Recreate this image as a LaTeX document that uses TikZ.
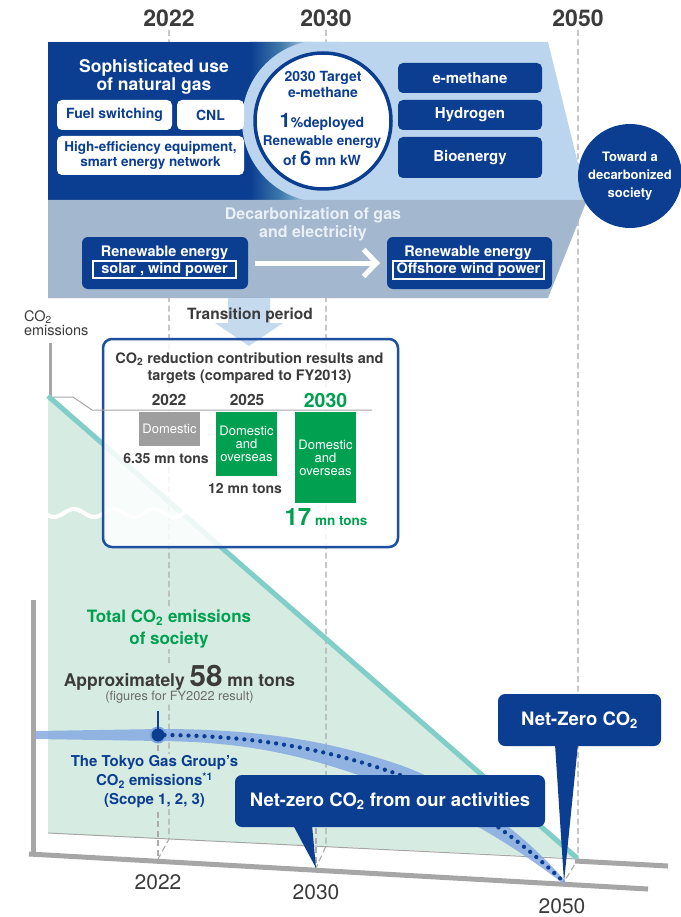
\documentclass[tikz,border=0pt]{standalone}
\usepackage{fontspec}
\setmainfont{TeX Gyre Heros}
\usetikzlibrary{arrows.meta}

\definecolor{navy}{HTML}{0B3D91}
\definecolor{panellight}{HTML}{BCD5EE}
\definecolor{panelgray}{HTML}{A3B7CF}
\definecolor{midblue}{HTML}{3F7BAA}
\definecolor{bandtext}{HTML}{EAF0F8}
\definecolor{mint}{HTML}{D6EBE2}
\definecolor{tealline}{HTML}{80CEC7}
\definecolor{bargreen}{HTML}{00A051}
\definecolor{bargray}{HTML}{9E9E9E}
\definecolor{txtdark}{HTML}{3B3B3B}
\definecolor{txtgray}{HTML}{6B6B6B}
\definecolor{axisgray}{HTML}{A6A6A6}
\definecolor{dashgray}{HTML}{ABABAB}
\definecolor{bandblue}{HTML}{86AAE2}
\definecolor{markhalo}{HTML}{7FA3DC}
\definecolor{boxblue}{HTML}{1E4FA0}
\definecolor{arrowblue}{HTML}{C6DAEE}

\newcommand{\fsz}[2]{\fontsize{#1}{#2}\selectfont}

\tikzset{
  guide/.style={dashgray, line width=1.1pt, dash pattern=on 6pt off 3.5pt},
  wbox/.style={fill=white, rounded corners=5pt, text=navy, font=\bfseries\fsz{14}{16.5}, align=center},
  nbox/.style={fill=navy, rounded corners=5pt, text=white, font=\bfseries\fsz{15}{17}, minimum width=144pt},
  rbox/.style={fill=navy, rounded corners=6pt, minimum height=52pt},
  obox/.style={draw=white, line width=1.1pt, text=white, font=\bfseries\fsz{14.5}{16}},
  cirtxt/.style={anchor=base, text=navy, font=\bfseries\fsz{14}{16}},
  bar/.style={text=white, font=\fsz{13}{13}, align=center, minimum width=61pt},
  amount/.style={text=txtdark, font=\bfseries\fsz{14}{16}},
  callout/.style={fill=navy, rounded corners=7pt, text=white, font=\bfseries\fsz{18.5}{20}, minimum height=52pt},
  onmint/.style={fill=mint, inner sep=1pt},
  yeartop/.style={anchor=base, text=txtdark, font=\bfseries\fsz{23}{23}},
  yearbot/.style={text=txtdark, font=\fsz{21}{22}},
  dotline/.style={navy, line width=4.3pt, line cap=round, dash pattern=on 0pt off 8pt},
}

\begin{document}
\begin{tikzpicture}[x=1pt, y=-1pt, every node/.style={inner sep=0pt, outer sep=0pt}]
\useasboundingbox (0,0) rectangle (680,917);
\fill[white] (0,0) rectangle (680,917);

% points on the back and front time axes
\coordinate (b22) at (169,839);
\coordinate (b30) at (326,846);
\coordinate (b50) at (578,859);
\coordinate (f22) at (158,859);
\coordinate (f30) at (316,868);
\coordinate (f50) at (564,882);

% back wall of the emissions chart
\draw[axisgray, line width=3pt] (50,343) -- (50,398);
\fill[mint] (48,396) -- (577,858) -- (48,833) -- cycle;
\draw[axisgray, line width=1pt] (48,833) -- (577,859);
\draw[axisgray, line width=5pt] (575,861) -- (668,866);

% dashed year guides
\draw[guide] (169,30) -- (b22) -- (f22);
\draw[guide] (326,30) -- (b30) -- (f30);
\draw[guide] (578,30) -- (b50) -- (f50);
\draw[guide] (158,745) -- (f22);
\draw[guide] (316,790) -- (f30);

% total emissions of society
\draw[tealline, line width=5pt] (48,396) -- (577,858);

% axis break
\draw[white, line width=4pt] plot[domain=44:186, samples=80, smooth] (\x, {513+4*sin(9*(\x-44))});

% ---------- upper panel ----------
\fill[panellight] (48,42) -- (548,42) -- (587,200) -- (48,200) -- cycle;
\begin{scope}
  \clip (48,42) -- (548,42) -- (587,200) -- (48,200) -- cycle;
  \fill[navy] (48,42) rectangle (252,200);
  \shade[left color=navy, right color=panellight, middle color=midblue] (250,42) rectangle (312,200);
  \fill[panellight] (323,121) circle[radius=81];
\end{scope}
\fill[panelgray] (48,200) -- (587,200) -- (548,298) -- (48,298) -- cycle;

\node[text=white, font=\bfseries\fsz{17.5}{17.5}, align=center] (soph) at (154,77) {Sophisticated use\\of natural gas};
\node[wbox, minimum width=115pt, minimum height=30pt] (fuel) at (114.5,115) {Fuel switching};
\node[wbox, minimum width=67pt, minimum height=30pt] (cnl) at (210.5,115) {CNL};
\node[wbox, font=\bfseries\fsz{13.5}{15}, minimum width=187pt, minimum height=39pt] (heff) at (150.5,155.5) {High-efficiency equipment,\\smart energy network};

\node[circle, fill=white, draw=navy, line width=3.5pt, minimum size=136pt] (target) at (323,121) {};
\node[cirtxt] (tg1) at (323,82) {2030 Target};
\node[cirtxt] (tg2) at (323,97.5) {e-methane};
\node[cirtxt] (tg3) at (322,128) {{\fsz{20}{20}1}\%deployed};
\node[cirtxt, font=\bfseries\fsz{13.5}{16}] (tg4) at (322,146) {Renewable energy};
\node[cirtxt] (tg5) at (322,166) {of {\fsz{20}{20}6} mn kW};

\node[nbox, minimum height=30pt] (emeth) at (470,78) {e-methane};
\node[nbox, minimum height=30pt] (hydro) at (470,115) {Hydrogen};
\node[nbox, minimum height=41pt] (bio) at (470,157.5) {Bioenergy};

\node[circle, fill=navy, minimum size=104pt] (society) at (630,176) {};
\node[text=white, font=\bfseries\fsz{13}{18}, align=center] (societytxt) at (630,176.5) {Toward a\\decarbonized\\society};

\node[text=bandtext, font=\bfseries\fsz{16}{18}, align=center] (decarb) at (313,224) {Decarbonization of gas\\and electricity};
\node[rbox, minimum width=166pt] (reL) at (165,263) {};
\node[rbox, minimum width=165pt] (reR) at (469.5,263) {};
\node[anchor=base, text=white, font=\bfseries\fsz{14.5}{16}] (reLt) at (164.5,256.5) {Renewable energy};
\node[anchor=base, text=white, font=\bfseries\fsz{14.5}{16}] (reRt) at (468,256.5) {Renewable energy};
\node[obox, minimum width=143pt, minimum height=17pt] (solar) at (164.5,269.5) {solar , wind power};
\node[obox, minimum width=151pt, minimum height=18pt] (offsh) at (468.5,270) {Offshore wind power};
\draw[white, line width=5pt, -{Straight Barb[length=13pt,width=27pt]}] ([xshift=7pt]reL.east) -- ([xshift=-7pt]reR.west);

% ---------- transition and results box ----------
\node[anchor=base west, text=txtdark, font=\fsz{14.5}{15}] (co2a) at (24,321) {CO\textsubscript{2}};
\node[anchor=base west, text=txtdark, font=\fsz{14.5}{15}] (co2b) at (24,335) {emissions};

\node[fill=white, fill opacity=0.85, rounded corners=9pt, minimum width=295pt, minimum height=208pt] (resbox) at (250.5,443) {};
\fill[arrowblue] (228,298) -- (270,298) -- (270,323) -- (283,323) -- (249,346) -- (215,323) -- (228,323) -- cycle;
\node[anchor=base, text=txtdark, font=\bfseries\fsz{15.5}{17}] (trans) at (250,319) {Transition period};
\draw[boxblue, line width=2.5pt, rounded corners=9pt] (resbox.north west) rectangle (resbox.south east);

\draw[axisgray, line width=1pt] (53,397) -- (73,397) -- (92,410) -- (372,410);

\node[text=txtdark, font=\bfseries\fsz{14.5}{16.5}, align=center] (rtitle) at (249.5,368) {CO\textsubscript{2} reduction contribution results and\\targets (compared to FY2013)};
\node[anchor=base, text=txtdark, font=\bfseries\fsz{15.5}{16}] (by22) at (169,405.5) {2022};
\node[anchor=base, text=txtdark, font=\bfseries\fsz{15.5}{16}] (by25) at (247,405.5) {2025};
\node[anchor=base, text=bargreen, font=\bfseries\fsz{19.5}{20}] (by30) at (325.5,407) {2030};
\node[bar, fill=bargray, minimum height=34pt] (bar22) at (169.5,429) {Domestic};
\node[bar, fill=bargreen, minimum height=64pt] (bar25) at (246.5,444) {Domestic\\and\\overseas};
\node[bar, fill=bargreen, minimum height=91pt] (bar30) at (325.5,457.5) {Domestic\\and\\overseas};
\node[amount] (am22) at (166,458) {6.35 mn tons};
\node[amount] (am25) at (245,488) {12 mn tons};
\node[anchor=base, text=bargreen, font=\bfseries\fsz{13.5}{14}] (am30) at (326,525) {{\fsz{24}{24}17} mn tons};

% ---------- front axes ----------
\draw[axisgray, line width=5pt] (33,600) -- (33,853);
\draw[axisgray, line width=5pt] (29,854) -- (648,889);

% range of the group's emission pathway
\fill[bandblue, opacity=0.85] (36,731) -- (160,729) .. controls (260,729) and (330,741) .. (400,765)
  .. controls (470,790) and (530,840) .. (565,881) -- (565,885)
  .. controls (520,850) and (460,812) .. (400,790) .. controls (320,760) and (260,742) .. (160,741)
  -- (36,739) -- cycle;

\coordinate (tick) at (158,711);
\fill[markhalo] (158,735) circle[radius=8.5];
\node[circle, fill=navy, minimum size=13pt] (marker) at (158,735) {};
\draw[navy, line width=1.5pt] (tick) -- (marker.north);
\draw[dotline] (marker.east) .. controls (260,736) and (330,750) .. (400,775) .. controls (470,800) and (525,845) .. (f50);

\node[onmint, text=bargreen, font=\bfseries\fsz{17}{22}, align=center] (total) at (169,629) {Total CO\textsubscript{2} emissions\\of society};
\node[onmint, anchor=base, text=txtdark, font=\bfseries\fsz{17.5}{18}] (approx) at (179.5,686) {Approximately {\fsz{29.5}{30}58} mn tons};
\node[onmint, text=txtgray, font=\fsz{12.8}{14}] (fig) at (179.5,697) {(figures for FY2022 result)};
\node[onmint, text=navy, font=\bfseries\fsz{15}{19}, align=center] (tgg) at (154.5,781.5) {The Tokyo Gas Group’s\\CO\textsubscript{2} emissions\textsuperscript{*1}\\(Scope 1, 2, 3)};

% callouts
\node[callout, minimum width=310pt] (nz1) at (390,801) {Net-zero CO\textsubscript{2} from our activities};
\fill[navy] ([xshift=-97pt,yshift=2pt]nz1.south) -- ([xshift=-78pt,yshift=2pt]nz1.south) -- (f30) -- cycle;
\node[callout, minimum width=163pt] (nz2) at (579.5,720) {Net-Zero CO\textsubscript{2}};
\fill[navy] ([xshift=-24.5pt,yshift=2pt]nz2.south) -- ([xshift=-1.5pt,yshift=2pt]nz2.south) -- (f50) -- cycle;

% year labels
\node[yearbot] (x22) at (158,882.5) {2022};
\node[yearbot] (x30) at (316,892) {2030};
\node[yearbot] (x50) at (562,906) {2050};
\node[yeartop] (t22) at (169,27) {2022};
\node[yeartop] (t30) at (326,27) {2030};
\node[yeartop] (t50) at (578,27) {2050};
\end{tikzpicture}
\end{document}
